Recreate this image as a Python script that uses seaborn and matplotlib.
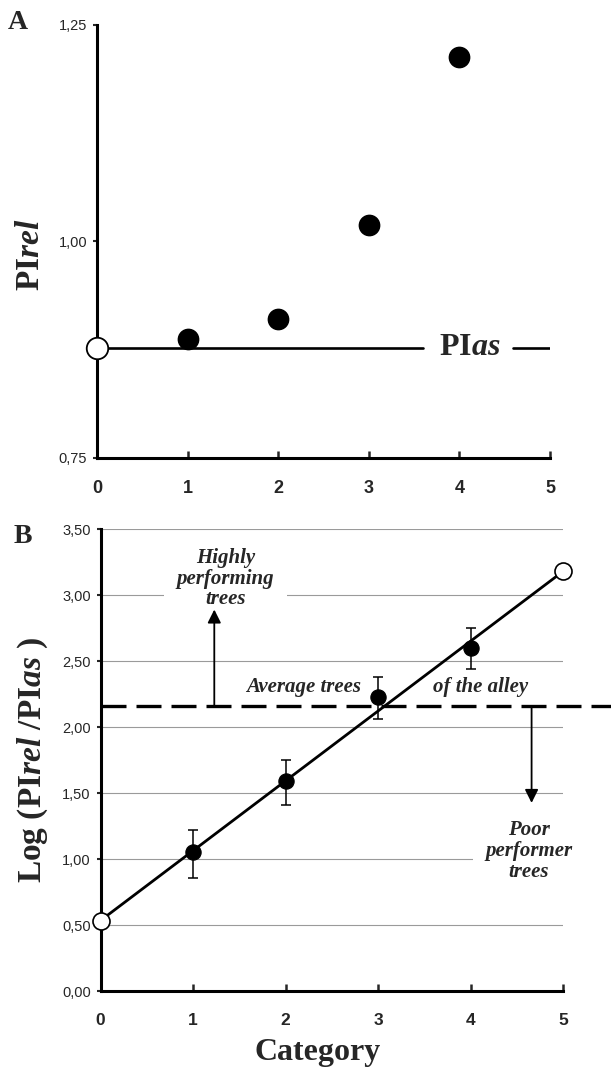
import matplotlib
matplotlib.use("Agg")
import matplotlib.pyplot as plt
import seaborn as sns
import pandas as pd
from matplotlib.ticker import FuncFormatter

# panel A
categories = [1, 2, 3, 4]
pi_rel = [0.887, 0.910, 1.019, 1.213]
pi_as = 0.877

# panel B
log_ratio = [1.05, 1.59, 2.23, 2.60]
err_low = [0.19, 0.18, 0.17, 0.16]
err_high = [0.17, 0.16, 0.15, 0.15]
fit_x = [0, 5]
fit_y = [0.534, 3.179]
avg_level = 2.157

x_ticks = [0, 1, 2, 3, 4, 5]
yticks_a = [0.75, 1.00, 1.25]
yticks_b = [0.0, 0.5, 1.0, 1.5, 2.0, 2.5, 3.0, 3.5]

dfA = pd.DataFrame({"cat": categories, "pirel": pi_rel})
dfB = pd.DataFrame({"cat": categories, "logr": log_ratio})
dfFit = pd.DataFrame({"x": fit_x, "y": fit_y})

sns.set_style("ticks")
plt.rcParams["font.family"] = ["Liberation Sans", "DejaVu Sans"]
plt.rcParams["mathtext.fontset"] = "custom"
plt.rcParams["mathtext.rm"] = "Liberation Serif:bold"
plt.rcParams["mathtext.bf"] = "Liberation Serif:bold"
plt.rcParams["mathtext.it"] = "Liberation Serif:italic:bold"

comma = FuncFormatter(lambda v, p: f"{v:.2f}".replace(".", ","))
serif = "Liberation Serif"

fig = plt.figure(figsize=(6.11, 10.70), dpi=100)
axA = fig.add_axes([0.1588, 0.5720, 0.7414, 0.4047])
axB = fig.add_axes([0.1645, 0.0738, 0.757, 0.4318])

for ax in (axA, axB):
    sns.despine(ax=ax)
    for s in ("left", "bottom"):
        ax.spines[s].set_linewidth(2.2)
        ax.spines[s].set_color("black")
    ax.set_xlim(0, 5)
    ax.set_xticks(x_ticks)
    ax.tick_params(axis="x", direction="in", length=5, width=1.8, pad=16)
    ax.tick_params(axis="y", direction="out", length=3, width=1.5, pad=4, labelsize=10.5)
    ax.yaxis.set_major_formatter(comma)
    ax.set_facecolor("white")

# ---- A ----
axA.set_ylim(0.75, 1.25)
axA.set_yticks(yticks_a)
axA.tick_params(axis="x", labelsize=13)
for lab in axA.get_xticklabels():
    lab.set_fontweight("bold")

sns.lineplot(x=[0, 3.6], y=[pi_as, pi_as], ax=axA, color="black", lw=1.9)
sns.lineplot(x=[4.59, 5.0], y=[pi_as, pi_as], ax=axA, color="black", lw=1.9)
axA.text(4.11, pi_as, r"PI$\mathit{as}$", ha="center", va="center",
         fontsize=23, fontfamily=serif, fontweight="bold")
sns.scatterplot(data=dfA, x="cat", y="pirel", ax=axA, color="black",
                s=210, edgecolor="black", zorder=5)
axA.scatter([0], [pi_as], s=240, facecolor="white", edgecolor="black",
            linewidth=1.3, zorder=6, clip_on=False)
axA.set_xlabel("")
axA.set_ylabel(r"PI$\mathit{rel}$", fontsize=24, fontfamily=serif, fontweight="bold",
               ha="center", va="center")
axA.yaxis.set_label_coords(-0.146, 0.47)

# ---- B ----
axB.set_ylim(0, 3.5)
axB.set_yticks(yticks_b)
axB.tick_params(axis="x", labelsize=12.5)
for lab in axB.get_xticklabels():
    lab.set_fontweight("bold")
axB.set_axisbelow(True)
axB.yaxis.grid(True, color="#9a9a9a", lw=0.8)

sns.lineplot(data=dfFit, x="x", y="y", ax=axB, color="black", lw=2, zorder=3)
axB.errorbar(categories, log_ratio, yerr=[err_low, err_high], fmt="none",
             ecolor="black", elinewidth=1.1, capsize=3.5, capthick=1.1, zorder=4)
sns.scatterplot(data=dfB, x="cat", y="logr", ax=axB, color="black",
                s=120, edgecolor="black", zorder=5)
axB.scatter(fit_x, fit_y, s=150, facecolor="white", edgecolor="black",
            linewidth=1.2, zorder=6, clip_on=False)

axB.plot([0, 5.6], [avg_level, avg_level], color="black", lw=2.4,
         dashes=(7.5, 3), clip_on=False, zorder=4)

axB.annotate("", xy=(1.23, 2.89), xytext=(1.23, avg_level),
             arrowprops=dict(arrowstyle="-|>", color="black", lw=1.3,
                             mutation_scale=20, shrinkA=0, shrinkB=0))
axB.annotate("", xy=(4.66, 1.425), xytext=(4.66, avg_level),
             arrowprops=dict(arrowstyle="-|>", color="black", lw=1.3,
                             mutation_scale=20, shrinkA=0, shrinkB=0))

txt = dict(fontsize=15, fontfamily=serif, fontweight="bold", style="italic",
           ha="center", va="center", linespacing=1.05)
axB.text(1.35, 3.124, "Highly\nperforming\ntrees",
         bbox=dict(fc="white", ec="none", pad=9), zorder=2, **txt)
axB.text(4.63, 1.06, "Poor\nperformer\ntrees",
         bbox=dict(fc="white", ec="none", pad=9), zorder=2, **txt)
axB.text(2.19, 2.30, "Average trees", zorder=7, **txt)
axB.text(4.11, 2.30, "of the alley", zorder=7, **txt)

axB.set_xlabel("Category", fontsize=23, fontfamily=serif, fontweight="bold",
               va="center")
axB.xaxis.set_label_coords(0.47, -0.134)
axB.set_ylabel(r"Log (PI$\mathit{rel}$ /PI$\mathit{as}$ )", fontsize=24,
               fontfamily=serif, fontweight="bold", ha="center", va="center")
axB.yaxis.set_label_coords(-0.146, 0.50)

fig.text(0.0295, 0.979, "A", fontsize=20, fontfamily=serif, fontweight="bold",
         ha="center", va="center")
fig.text(0.0376, 0.499, "B", fontsize=20, fontfamily=serif, fontweight="bold",
         ha="center", va="center")

fig.savefig("out.png", dpi=100)
